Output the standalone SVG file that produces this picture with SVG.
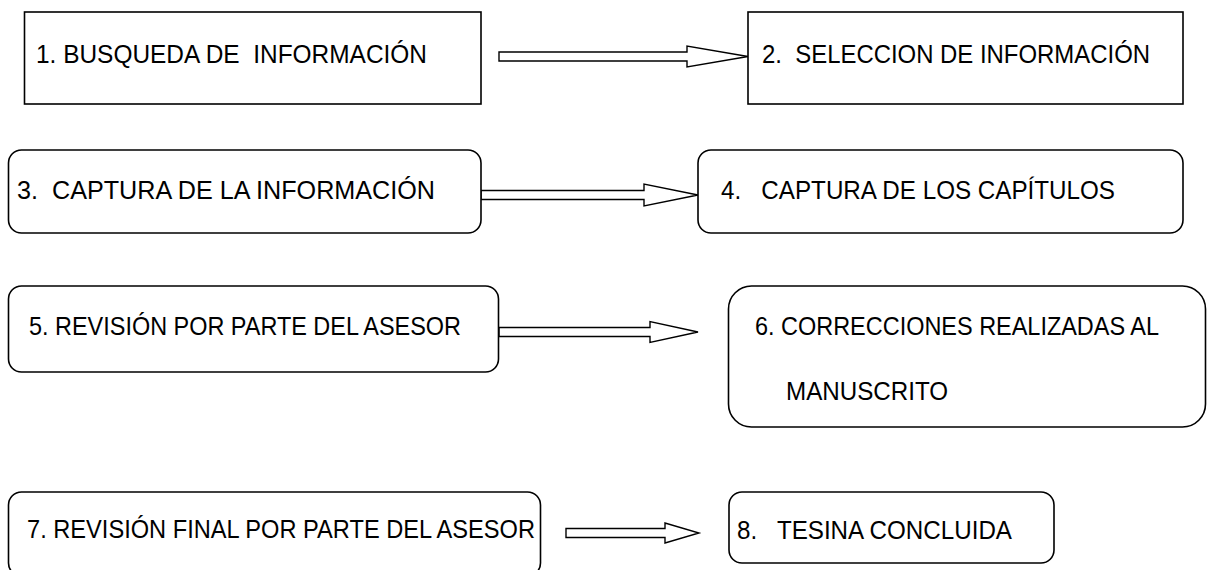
<svg xmlns="http://www.w3.org/2000/svg" width="1208" height="570" viewBox="0 0 1208 570">
<style>
.box{fill:#fff;stroke:#000;stroke-width:1.6}
.arr{fill:#fff;stroke:#000;stroke-width:1.4;stroke-linejoin:miter}
text{font-family:"Liberation Sans",Arial,sans-serif;font-size:26px;fill:#000}
</style>
<rect width="1208" height="570" fill="#fff"/>
<g id="connectors">
<polygon class="arr" points="499,52 687,52 687,46 748,56.5 687,67 687,61 499,61"/>
<polygon class="arr" points="481,190.5 644,190.5 644,184 698,195 644,206 644,199.5 481,199.5"/>
<polygon class="arr" points="499,327.5 650,327.5 650,321.5 698,332 650,342.5 650,336.5 499,336.5"/>
<polygon class="arr" points="566,528.5 665,528.5 665,523 699,533 665,543 665,537.5 566,537.5"/>
</g>
<g id="n1">
<rect class="box" x="24.5" y="12" width="456.5" height="92"/>
<text x="36" y="63" xml:space="preserve" textLength="391" lengthAdjust="spacingAndGlyphs">1. BUSQUEDA DE  INFORMACIÓN</text>
</g>
<g id="n2">
<rect class="box" x="748" y="12" width="435" height="92"/>
<text x="762" y="63" xml:space="preserve" textLength="388" lengthAdjust="spacingAndGlyphs">2.  SELECCION DE INFORMACIÓN</text>
</g>
<g id="n3">
<rect class="box" x="8.5" y="150" width="472.5" height="83" rx="13"/>
<text x="17" y="199" xml:space="preserve" textLength="418" lengthAdjust="spacingAndGlyphs">3.  CAPTURA DE LA INFORMACIÓN</text>
</g>
<g id="n4">
<rect class="box" x="698" y="150" width="485" height="83" rx="13"/>
<text x="721" y="199" xml:space="preserve" textLength="394" lengthAdjust="spacingAndGlyphs">4.   CAPTURA DE LOS CAPÍTULOS</text>
</g>
<g id="n5">
<rect class="box" x="8.5" y="286" width="490" height="86" rx="13"/>
<text x="29" y="335" xml:space="preserve" textLength="432" lengthAdjust="spacingAndGlyphs">5. REVISIÓN POR PARTE DEL ASESOR</text>
</g>
<g id="n6">
<rect class="box" x="728.5" y="286" width="477" height="141" rx="23"/>
<text x="755" y="335" xml:space="preserve" textLength="404" lengthAdjust="spacingAndGlyphs">6. CORRECCIONES REALIZADAS AL</text>
<text x="786" y="400" xml:space="preserve" textLength="162" lengthAdjust="spacingAndGlyphs">MANUSCRITO</text>
</g>
<g id="n7">
<rect class="box" x="8.5" y="492" width="532" height="84" rx="13"/>
<text x="27" y="538" xml:space="preserve" textLength="508" lengthAdjust="spacingAndGlyphs">7. REVISIÓN FINAL POR PARTE DEL ASESOR</text>
</g>
<g id="n8">
<rect class="box" x="729" y="492" width="325" height="71" rx="13"/>
<text x="737" y="539" xml:space="preserve" textLength="275" lengthAdjust="spacingAndGlyphs">8.   TESINA CONCLUIDA</text>
</g>
</svg>
